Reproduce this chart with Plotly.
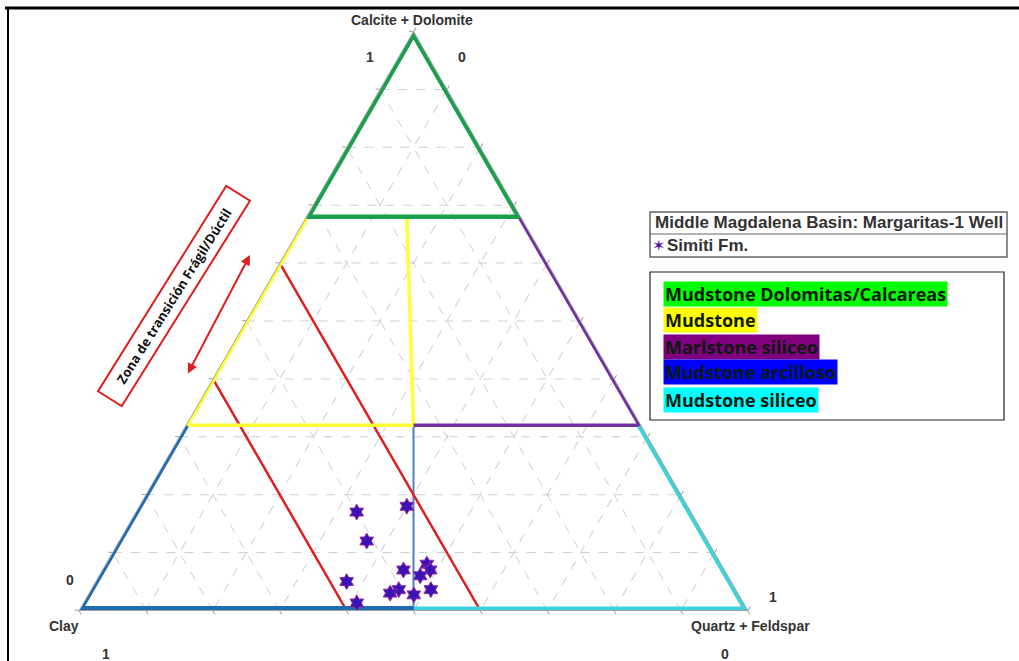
import plotly.graph_objects as go

W, H = 1019, 661

# ---- data: Simiti Fm. samples (a = Calcite+Dolomite, b = Clay, c = Quartz+Feldspar)
simiti_a = [0.17, 0.18, 0.12, 0.07, 0.08, 0.07, 0.06, 0.05, 0.036, 0.03, 0.027, 0.036, 0.013]
simiti_b = [0.50, 0.42, 0.51, 0.48, 0.44, 0.44, 0.46, 0.575, 0.504, 0.52, 0.486, 0.456, 0.58]
simiti_c = [0.33, 0.40, 0.37, 0.45, 0.48, 0.49, 0.48, 0.375, 0.46, 0.45, 0.487, 0.508, 0.41]

# ---- classification boundaries (a, b, c)
mid_a = [0.0, 0.32]
mid_b = [0.5, 0.34]
mid_c = [0.5, 0.34]

green_edge_a = [0.68, 1.0, 0.68]
green_edge_b = [0.32, 0.0, 0.0]
green_edge_c = [0.0, 0.0, 0.32]
green_in_a = [0.68, 0.68]
green_in_b = [0.32, 0.0]
green_in_c = [0.0, 0.32]

yellow_edge_a = [0.68, 0.32]
yellow_edge_b = [0.32, 0.68]
yellow_edge_c = [0.0, 0.0]
yellow_in_a = [0.32, 0.32, 0.68]
yellow_in_b = [0.68, 0.34, 0.17]
yellow_in_c = [0.0, 0.34, 0.15]

purple_edge_a = [0.68, 0.32]
purple_edge_b = [0.0, 0.0]
purple_edge_c = [0.32, 0.68]
purple_in_a = [0.32, 0.32]
purple_in_b = [0.0, 0.34]
purple_in_c = [0.68, 0.34]

blue_left_a = [0.32, 0.0]
blue_left_b = [0.68, 1.0]
blue_left_c = [0.0, 0.0]
blue_base_a = [0.0, 0.0]
blue_base_b = [1.0, 0.5]
blue_base_c = [0.0, 0.5]

cyan_edge_a = [0.0, 0.0, 0.32]
cyan_edge_b = [0.5, 0.0, 0.0]
cyan_edge_c = [0.5, 1.0, 0.68]

red1_a = [0.6, 0.0]
red1_b = [0.4, 0.4]
red1_c = [0.0, 0.6]

red2_a = [0.4, 0.0]
red2_b = [0.6, 0.6]
red2_c = [0.0, 0.4]

legend_title = "Middle Magdalena Basin: Margaritas-1 Well"
series_name = "Simiti Fm."
class_names = ["Mudstone Dolomitas/Calcareas", "Mudstone", "Marlstone siliceo",
               "Mudstone arcilloso", "Mudstone siliceo"]
class_colors = ["#00ff00", "#ffff00", "#800080", "#0000ff", "#00ffff"]

GREEN = "#1aa04c"
YELLOW = "#ffff33"
PURPLE = "#7030a0"
BLUE = "#1f6cb0"
CYAN = "#3cd3de"
RED = "#de1f1f"

fig = go.Figure()


def line(a, b, c, color, width):
    fig.add_trace(go.Scatterternary(a=a, b=b, c=c, mode="lines",
                                    line=dict(color=color, width=width),
                                    cliponaxis=False, showlegend=False,
                                    hoverinfo="skip"))


# edge segments are clipped to the triangle, so they are drawn twice as wide
line(mid_a, mid_b, mid_c, "#4f7fc0", 2)
line(red1_a, red1_b, red1_c, RED, 2.5)
line(red2_a, red2_b, red2_c, RED, 2.5)
line(yellow_in_a, yellow_in_b, yellow_in_c, YELLOW, 3.5)
line(yellow_edge_a, yellow_edge_b, yellow_edge_c, YELLOW, 6)
line(purple_in_a, purple_in_b, purple_in_c, PURPLE, 3.5)
line(purple_edge_a, purple_edge_b, purple_edge_c, PURPLE, 6)
line(cyan_edge_a, cyan_edge_b, cyan_edge_c, CYAN, 8)
line(blue_left_a, blue_left_b, blue_left_c, BLUE, 6)
line(blue_base_a, blue_base_b, blue_base_c, BLUE, 9)
line(green_edge_a, green_edge_b, green_edge_c, GREEN, 8)
line(green_in_a, green_in_b, green_in_c, GREEN, 4.5)

fig.add_trace(go.Scatterternary(
    a=simiti_a, b=simiti_b, c=simiti_c, mode="markers", name=series_name,
    marker=dict(symbol="hexagram", size=12, color="#3a12b5",
                line=dict(color="#9a2c9c", width=1)),
    cliponaxis=False, showlegend=False))

axis_common = dict(
    showticklabels=False, ticks="outside", ticklen=4, tickcolor="#9a9a9a",
    dtick=0.1, tick0=0, showgrid=True, gridcolor="#cfcfcf", gridwidth=1,
    griddash="dash", showline=True, linecolor="#a0a0a0", linewidth=1,
    min=0, title=dict(text=""))

tw = 579.0
cx, cy = 413.5, 321.0
fig.update_layout(
    width=W, height=H, autosize=False,
    margin=dict(l=0, r=0, t=0, b=0),
    paper_bgcolor="white",
    ternary=dict(
        sum=1, bgcolor="white",
        domain=dict(x=[(cx - 340) / W, (cx + 340) / W],
                    y=[1 - (cy + tw / 2) / H, 1 - (cy - tw / 2) / H]),
        aaxis=axis_common, baxis=axis_common, caxis=axis_common),
)


def px(x):
    return x / W


def py(y):
    return 1 - y / H


annots = []
lab_font = dict(family="Liberation Sans, Arial", size=14, color="#333333")
for txt, x, y in [("<b>Calcite + Dolomite</b>", 412, 20), ("<b>1</b>", 370, 57),
                  ("<b>0</b>", 462, 57), ("<b>0</b>", 70, 580),
                  ("<b>Clay</b>", 64, 626), ("<b>1</b>", 106, 654),
                  ("<b>Quartz + Feldspar</b>", 750, 626), ("<b>1</b>", 773, 597),
                  ("<b>0</b>", 725, 654)]:
    annots.append(dict(text=txt, x=px(x), y=py(y), xref="paper", yref="paper",
                       showarrow=False, xanchor="center", yanchor="middle",
                       font=lab_font))

# legend box 1
annots.append(dict(text="<b>" + legend_title + "</b>", x=px(653), y=py(223),
                   xref="paper", yref="paper", showarrow=False, xanchor="left",
                   yanchor="middle",
                   font=dict(family="Liberation Sans, Arial", size=17, color="#333333")))
annots.append(dict(text="\u2736", x=px(650), y=py(245.5), xref="paper", yref="paper",
                   showarrow=False, xanchor="left", yanchor="middle",
                   font=dict(family="DejaVu Sans", size=16, color="#5a1aa8")))
annots.append(dict(text="<b>" + series_name + "</b>", x=px(665), y=py(245.5),
                   xref="paper", yref="paper", showarrow=False, xanchor="left",
                   yanchor="middle",
                   font=dict(family="Liberation Sans, Arial", size=17, color="#333333")))

# legend box 2
row_y = [294, 320, 346.5, 372.5, 399.5]
for name, col, yy in zip(class_names, class_colors, row_y):
    annots.append(dict(text="<b>" + name + "</b>", x=px(663), y=py(yy),
                       xref="paper", yref="paper", showarrow=False,
                       xanchor="left", yanchor="middle", align="left",
                       height=22, bgcolor=col, borderpad=1,
                       font=dict(family="Open Sans", size=18, color="#0d1a0d")))

# rotated transition-zone box
annots.append(dict(text="<b>Zona de transición Frágil/Dúctil</b>", x=px(174), y=py(296),
                   xref="paper", yref="paper", showarrow=False, textangle=-58,
                   xanchor="center", yanchor="middle", width=238, height=24,
                   bordercolor=RED, borderwidth=2, borderpad=1,
                   font=dict(family="Open Sans", size=13, color="#111111")))

# double arrow
annots.append(dict(text="", x=px(250), y=py(255), xref="paper", yref="paper",
                   ax=187 - 250, ay=375 - 255, showarrow=True, arrowside="end+start",
                   arrowhead=2, arrowsize=1, arrowwidth=2, arrowcolor=RED,
                   standoff=0, startstandoff=0))

fig.update_layout(annotations=annots)

shapes = [
    dict(type="rect", xref="paper", yref="paper", x0=px(650), x1=px(1007),
         y0=py(257), y1=py(212), line=dict(color="#666666", width=1.5)),
    dict(type="line", xref="paper", yref="paper", x0=px(650), x1=px(1007),
         y0=py(234), y1=py(234), line=dict(color="#666666", width=1)),
    dict(type="rect", xref="paper", yref="paper", x0=px(650), x1=px(1004),
         y0=py(420), y1=py(272), line=dict(color="#222222", width=1.2)),
    dict(type="line", xref="paper", yref="paper", x0=px(5), x1=1,
         y0=py(8), y1=py(8), line=dict(color="black", width=3)),
    dict(type="line", xref="paper", yref="paper", x0=px(8), x1=px(8),
         y0=py(8), y1=0, line=dict(color="black", width=2)),
]
fig.update_layout(shapes=shapes)

fig.write_html("out.html",
               config={"displayModeBar": False},
               post_script="document.body.style.margin='0';"
                           "document.body.style.padding='0';"
                           "document.documentElement.style.overflow='hidden';")
